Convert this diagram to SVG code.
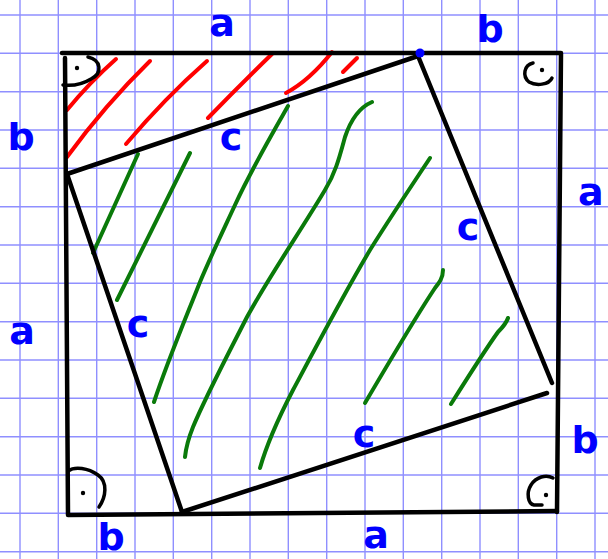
<svg xmlns="http://www.w3.org/2000/svg" width="608" height="559" viewBox="0 0 608 559">
<style>
.grid line{stroke:#8f8fff;stroke-width:1.4}
.blk{fill:none;stroke:#000;stroke-width:4.5;stroke-linecap:round;stroke-linejoin:round}
.mark{fill:none;stroke:#000;stroke-width:3.5;stroke-linecap:round}
.dot{fill:#000}
.red{fill:none;stroke:#ff0000;stroke-width:4;stroke-linecap:round;stroke-linejoin:round}
.grn{fill:none;stroke:#0a7a0a;stroke-width:4;stroke-linecap:round;stroke-linejoin:round}
.lbl{font-family:"DejaVu Sans",sans-serif;font-weight:bold;font-size:38px;fill:#0000ff;text-anchor:middle}
</style>
<rect width="608" height="559" fill="#fff"/>
<g class="grid" id="grid">
<line x1="20" y1="0" x2="20" y2="559"/><line x1="58.3" y1="0" x2="58.3" y2="559"/><line x1="96.7" y1="0" x2="96.7" y2="559"/><line x1="135" y1="0" x2="135" y2="559"/><line x1="173.3" y1="0" x2="173.3" y2="559"/><line x1="211.7" y1="0" x2="211.7" y2="559"/><line x1="250" y1="0" x2="250" y2="559"/><line x1="288.3" y1="0" x2="288.3" y2="559"/><line x1="326.7" y1="0" x2="326.7" y2="559"/><line x1="365" y1="0" x2="365" y2="559"/><line x1="403.3" y1="0" x2="403.3" y2="559"/><line x1="441.7" y1="0" x2="441.7" y2="559"/><line x1="480" y1="0" x2="480" y2="559"/><line x1="518.3" y1="0" x2="518.3" y2="559"/><line x1="556.7" y1="0" x2="556.7" y2="559"/><line x1="595" y1="0" x2="595" y2="559"/>
<line x1="0" y1="15" x2="608" y2="15"/><line x1="0" y1="53.3" x2="608" y2="53.3"/><line x1="0" y1="91.7" x2="608" y2="91.7"/><line x1="0" y1="130" x2="608" y2="130"/><line x1="0" y1="168.3" x2="608" y2="168.3"/><line x1="0" y1="206.7" x2="608" y2="206.7"/><line x1="0" y1="245" x2="608" y2="245"/><line x1="0" y1="283.3" x2="608" y2="283.3"/><line x1="0" y1="321.7" x2="608" y2="321.7"/><line x1="0" y1="360" x2="608" y2="360"/><line x1="0" y1="398.3" x2="608" y2="398.3"/><line x1="0" y1="436.7" x2="608" y2="436.7"/><line x1="0" y1="475" x2="608" y2="475"/><line x1="0" y1="513.3" x2="608" y2="513.3"/><line x1="0" y1="551.7" x2="608" y2="551.7"/>
</g>
<g id="hatch-red">
<path class="red" d="M67,110 Q90,82 116,59"/>
<path class="red" d="M67,157 Q105,105 150,61"/>
<path class="red" d="M126,144 Q165,98 207,61"/>
<path class="red" d="M208,118 Q240,85 272,54"/>
<path class="red" d="M286,93 Q310,80 332,52"/>
<path class="red" d="M343,72 L357,58"/>
</g>
<g id="hatch-green">
<path class="grn" d="M138,154 L93,253"/>
<path class="grn" d="M190,153 L117,300"/>
<path class="grn" d="M288,106 C270,138 250,172 235,205 C222,233 210,258 200,282 C185,320 168,360 154,402"/>
<path class="grn" d="M372,102 C358,108 350,122 345,137 C340,155 336,172 325,190 C300,232 270,275 247,317 C225,360 205,398 193,427 C189,437 186,447 185,457"/>
<path class="grn" d="M430,158 C410,188 390,218 370,250 C345,292 318,343 293,390 C280,415 268,440 260,468"/>
<path class="grn" d="M443,270 C443,278 439,283 435,288 C425,303 395,352 365,403"/>
<path class="grn" d="M508,318 C506,324 502,328 498,332 C485,350 468,377 451,404"/>
</g>
<g id="outer-square">
<path class="blk" d="M62,53 L561,53 L557,512"/>
<path class="blk" d="M65,58 L68,515 L557,511"/>
</g>
<g id="inner-square">
<path class="blk" d="M67,174 L418,56"/>
<path class="blk" d="M418,56 L552,383"/>
<path class="blk" d="M547,393 L182,512"/>
<path class="blk" d="M182,512 L67,174"/>
<circle cx="420" cy="53" r="4.5" fill="#0000ff"/>
</g>
<g id="right-angles">
<path class="mark" d="M88,57 C101,60 103,73 91,79 C83,84 72,86 63,85"/>
<circle class="dot" cx="77" cy="68" r="2.2"/>
<path class="mark" d="M533,63 C524,65 522,76 529,82 C536,86 549,85 552,78"/>
<circle class="dot" cx="542" cy="70" r="2.2"/>
<path class="mark" d="M68,471 C75,466 88,468 98,475 C108,482 106,497 99,507"/>
<circle class="dot" cx="83" cy="493" r="2.2"/>
<path class="mark" d="M553,478 C546,474 536,477 531,485 C526,493 528,504 534,505 L542,505"/>
<circle class="dot" cx="546" cy="495" r="2.2"/>
</g>
<g id="labels">
<text class="lbl" x="222" y="36">a</text>
<text class="lbl" x="490" y="42">b</text>
<text class="lbl" x="21" y="150">b</text>
<text class="lbl" x="578" y="205" style="text-anchor:start">a</text>
<text class="lbl" x="22" y="344">a</text>
<text class="lbl" x="376" y="548">a</text>
<text class="lbl" x="111" y="550">b</text>
<text class="lbl" x="585" y="453">b</text>
<text class="lbl" x="231" y="150">c</text>
<text class="lbl" x="468" y="240">c</text>
<text class="lbl" x="138" y="337">c</text>
<text class="lbl" x="364" y="447">c</text>
</g>
</svg>
